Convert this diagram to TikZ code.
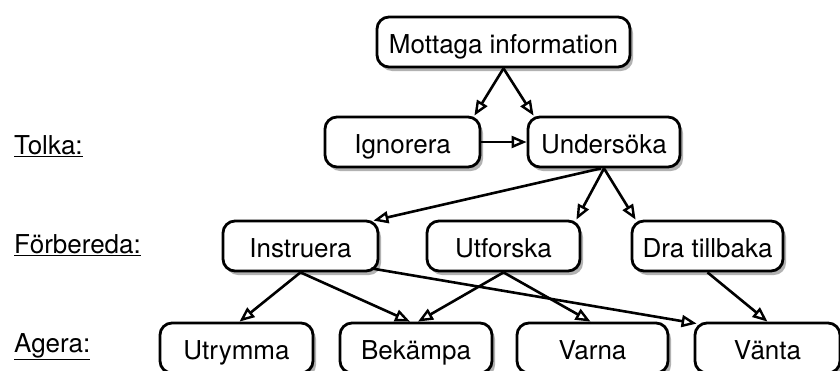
\documentclass[tikz,border=0pt]{standalone}
\usepackage{fontspec}
\setmainfont{TeX Gyre Heros}
\usetikzlibrary{arrows.meta,shadows,calc}
\tikzset{
  box/.style={draw=black, line width=2.8pt, rounded corners=12pt, fill=white,
    minimum height=50pt, inner sep=0pt, text height=22pt, text depth=0pt,
    font=\fontsize{26}{31}\selectfont,
    drop shadow={shadow xshift=3pt, shadow yshift=-4pt, opacity=0.3, fill=black}},
  lbl/.style={anchor=base west, inner sep=0pt, font=\fontsize{26}{31}\selectfont},
  conn/.style={line width=2.6pt, -{Triangle[open, length=15pt, width=12pt, line width=2.4pt]}},
}
\begin{document}
\begin{tikzpicture}[x=1pt, y=-1pt]
\useasboundingbox (0,0) rectangle (840,370);
\fill[white] (0,0) rectangle (840,370);
% row 1
\node[box, minimum width=253pt] (mot) at (503.5,42) {Mottaga information};
% row 2
\node[box, minimum width=155pt] (ign) at (402.5,142) {Ignorera};
\node[box, minimum width=152pt] (und) at (604,142) {Undersöka};
% row 3
\node[box, minimum width=155pt] (ins) at (300.5,246) {Instruera};
\node[box, minimum width=153pt] (utf) at (503.5,246) {Utforska};
\node[box, minimum width=151pt] (dra) at (707.5,246) {Dra tillbaka};
% row 4
\node[box, minimum width=153pt] (utr) at (236.5,348) {Utrymma};
\node[box, minimum width=152pt] (bek) at (416,348) {Bekämpa};
\node[box, minimum width=151pt] (var) at (592.5,348) {Varna};
\node[box, minimum width=145pt] (van) at (767.5,348) {Vänta};
% labels
\node[lbl] (ltolka) at (14,154) {\underline{Tolka:}};
\node[lbl] (lforb) at (14,253) {\underline{Förbereda:}};
\node[lbl] (lagera) at (14,352) {\underline{Agera:}};
% connectors
\draw[conn] (mot.south) -- ($(ign.north east)+(-7,0)$);
\draw[conn] (mot.south) -- ($(und.north west)+(7,0)$);
\draw[conn] (ign.east) -- (und.west);
\draw[conn] ($(und.south)+(-3,0)$) -- ($(ins.north east)+(-6,1)$);
\draw[conn] (und.south) -- ($(utf.north east)+(-5,0)$);
\draw[conn] (und.south) -- ($(dra.north west)+(5,0)$);
\draw[conn] (ins.south) -- ($(utr.north)+(3,0)$);
\draw[conn] (ins.south) -- ($(bek.north)+(-6,0)$);
\draw[conn] (utf.south) -- ($(bek.north)+(2,0)$);
\draw[conn] (utf.south) -- ($(var.north)+(-2,0)$);
\draw[conn] ($(ins.south east)+(-8,-4)$) -- ($(van.north west)+(3,2)$);
\draw[conn] (dra.south) -- (van.north);
\end{tikzpicture}
\end{document}
